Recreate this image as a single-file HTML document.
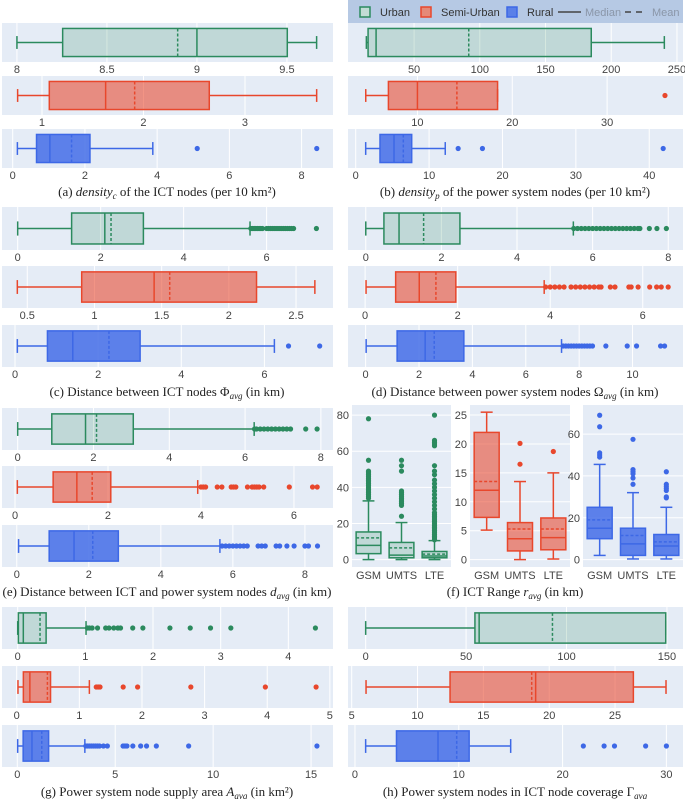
<!DOCTYPE html>
<html><head><meta charset="utf-8"><style>
html,body{margin:0;padding:0;background:#fff;}
svg{display:block;}
.tk{font-family:"Liberation Sans",sans-serif;font-size:11px;fill:#444;}
.cap{font-family:"Liberation Serif",serif;font-size:13px;fill:#222;}
.lg{font-family:"Liberation Sans",sans-serif;font-size:11px;}
</style></head><body>
<svg id="fig" width="685" height="799" viewBox="0 0 685 799" xmlns="http://www.w3.org/2000/svg">
<g>
<rect x="348" y="0" width="335" height="23" fill="#b6c9e4"/>
<rect x="360" y="7" width="10" height="10" fill="#c2dcd5" stroke="#2b8a5e" stroke-width="1.5"/>
<text x="380" y="16" class="lg" fill="#333">Urban</text>
<rect x="421" y="7" width="10" height="10" fill="#e58a78" stroke="#e8472c" stroke-width="1.5"/>
<text x="441" y="16" class="lg" fill="#333">Semi-Urban</text>
<rect x="507" y="7" width="10" height="10" fill="#5a80e8" stroke="#3d68e6" stroke-width="1.5"/>
<text x="527" y="16" class="lg" fill="#333">Rural</text>
<line x1="558" y1="12" x2="581" y2="12" stroke="#444" stroke-width="1.5"/>
<text x="585" y="16" class="lg" fill="#8a96a8">Median</text>
<line x1="625" y1="12" x2="646" y2="12" stroke="#444" stroke-width="1.5" stroke-dasharray="6,5"/>
<text x="652" y="16" class="lg" fill="#8a96a8">Mean</text>
</g>
<text class="cap" x="167" y="196" text-anchor="middle">(a) <tspan font-style="italic">density</tspan><tspan font-style="italic" font-size="9" dy="3">c</tspan><tspan dy="-3"> of the ICT nodes (per 10 km²)</tspan></text>
<text class="cap" x="515" y="196" text-anchor="middle">(b) <tspan font-style="italic">density</tspan><tspan font-style="italic" font-size="9" dy="3">p</tspan><tspan dy="-3"> of the power system nodes (per 10 km²)</tspan></text>
<text class="cap" x="167" y="396" text-anchor="middle">(c) Distance between ICT nodes Φ<tspan font-style="italic" font-size="9" dy="3">avg</tspan><tspan dy="-3"> (in km)</tspan></text>
<text class="cap" x="515" y="396" text-anchor="middle">(d) Distance between power system nodes Ω<tspan font-style="italic" font-size="9" dy="3">avg</tspan><tspan dy="-3"> (in km)</tspan></text>
<text class="cap" x="167" y="596" text-anchor="middle">(e) Distance between ICT and power system nodes <tspan font-style="italic">d</tspan><tspan font-style="italic" font-size="9" dy="3">avg</tspan><tspan dy="-3"> (in km)</tspan></text>
<text class="cap" x="515" y="596" text-anchor="middle">(f) ICT Range <tspan font-style="italic">r</tspan><tspan font-style="italic" font-size="9" dy="3">avg</tspan><tspan dy="-3"> (in km)</tspan></text>
<text class="cap" x="167" y="796" text-anchor="middle">(g) Power system node supply area <tspan font-style="italic">A</tspan><tspan font-style="italic" font-size="9" dy="3">avg</tspan><tspan dy="-3"> (in km²)</tspan></text>
<text class="cap" x="515" y="796" text-anchor="middle">(h) Power system nodes in ICT node coverage Γ<tspan font-style="italic" font-size="9" dy="3">avg</tspan></text>
</svg>
<script>
// stats arrays: [whiskerLow, q1, median, mean, q3, whiskerHigh]
const categories = ['Urban','Semi-Urban','Rural'];
const ictTechs = ['GSM','UMTS','LTE'];
// (a)
const aDomU=[7.917,9.756], aTickU=[8,8.5,9,9.5], aU=[8.0,8.254,9.0,8.893,9.502,9.665], aUOut=[];
const aDomS=[0.606,3.867], aTickS=[1,2,3], aS=[0.76,1.072,1.627,1.913,2.648,3.706], aSOut=[];
const aDomR=[-0.296,8.87], aTickR=[0,2,4,6,8], aR=[0.13,0.66,1.03,1.63,2.14,3.88], aROut=[5.11,8.42];
// (b)
const bDomU=[-0.27,254.6], bTickU=[50,100,150,200,250], bU=[13.7,15.0,21.1,91.6,184.8,240.4], bUOut=[];
const bDomS=[2.68,38.0], bTickS=[10,20,30], bS=[4.55,6.94,10.0,14.16,18.45,18.45], bSOut=[36.1];
const bDomR=[-1.05,44.6], bTickR=[0,10,20,30,40], bR=[1.36,3.31,5.22,6.49,7.63,12.2], bROut=[13.96,17.27,41.9];
// (c)
const cDomU=[-0.378,7.6], cTickU=[0,2,4,6], cU=[0,1.30,2.10,2.25,3.03,5.6], cUOut=[5.62,5.66,5.7,5.74,5.78,5.82,5.86,5.9,6.0,6.05,6.1,6.15,6.2,6.25,6.3,6.35,6.4,6.45,6.5,6.55,6.6,6.65,7.2];
const cDomS=[0.312,2.775], cTickS=[0.5,1,1.5,2,2.5], cS=[0.426,0.905,1.444,1.56,2.206,2.64], cSOut=[];
const cDomR=[-0.313,7.65], cTickR=[0,2,4,6], cR=[0.056,0.78,1.39,2.26,3.01,6.24], cROut=[6.58,7.33];
// (d)
const dDomU=[-0.47,8.39], dTickU=[0,2,4,6,8], dU=[0,0.48,0.88,1.53,2.49,5.49], dUOut=[5.5,5.6,5.7,5.8,5.9,6.0,6.1,6.2,6.3,6.4,6.5,6.6,6.7,6.8,6.9,7.0,7.1,7.2,7.25,7.5,7.7,7.95];
const dDomS=[-0.37,6.87], dTickS=[0,2,4,6], dS=[0.02,0.66,1.17,1.53,1.96,3.87], dSOut=[3.9,4.0,4.1,4.2,4.3,4.45,4.55,4.65,4.75,4.85,4.95,5.05,5.1,5.3,5.4,5.7,5.75,5.9,6.15,6.3,6.4,6.55];
const dDomR=[-0.66,11.89], dTickR=[0,2,4,6,8,10], dR=[0.02,1.18,2.23,2.57,3.68,7.34], dROut=[7.4,7.5,7.6,7.7,7.8,7.9,8.0,8.1,8.2,8.3,8.4,8.5,9.0,9.8,10.15,11.05,11.2];
// (e)
const eDomU=[-0.414,8.32], eTickU=[0,2,4,6,8], eU=[0,0.9,1.79,2.08,3.05,6.24], eUOut=[6.25,6.3,6.4,6.5,6.6,6.7,6.8,6.9,7.0,7.1,7.2,7.6,7.9];
const eDomS=[-0.28,6.84], eTickS=[0,2,4,6], eS=[0.05,0.82,1.33,1.66,2.06,3.93], eSOut=[4.0,4.05,4.1,4.35,4.45,4.65,4.7,4.75,5.0,5.1,5.15,5.2,5.25,5.35,5.9,6.4,6.5];
const eDomR=[-0.41,8.78], eTickR=[0,2,4,6,8], eR=[0.05,0.9,1.59,2.11,2.82,5.64], eROut=[5.7,5.8,5.9,6.0,6.1,6.2,6.3,6.4,6.7,6.8,6.9,7.2,7.3,7.5,7.7,8.0,8.1,8.35];
// (g)
const gDomU=[-0.232,4.66], gTickU=[0,1,2,3,4], gU=[0,0.01,0.083,0.33,0.42,1.01], gUOut=[1.03,1.06,1.1,1.18,1.3,1.35,1.42,1.48,1.52,1.7,1.85,2.25,2.55,2.85,3.15,4.4];
const gDomS=[-0.235,5.05], gTickS=[0,1,2,3,4,5], gS=[0.02,0.106,0.21,0.49,0.54,1.16], gSOut=[1.27,1.3,1.33,1.7,1.93,2.78,3.97,4.78];
const gDomR=[-0.78,16.12], gTickR=[0,5,10,15], gR=[0.02,0.3,0.75,1.25,1.6,3.45], gROut=[3.5,3.6,3.7,3.8,3.9,4.0,4.1,4.2,4.4,4.6,5.4,5.5,5.6,5.9,6.3,6.6,7.1,8.75,15.3];
// (h)
const hDomU=[-8.8,158], hTickU=[0,50,100,150], hU=[0,54.4,56.5,93,149.4,149.4], hUOut=[];
const hDomS=[4.72,30.16], hTickS=[5,10,15,20,25], hS=[6.09,12.47,18.97,18.67,26.39,28.87], hSOut=[];
const hDomR=[-0.67,31.6], hTickR=[0,10,20,30], hR=[1.03,4.0,8.0,9.8,11.0,15.0], hROut=[22,24,25,28,30];
// (f) vertical: per-tech stats
const fDomU=[-4.1,85.6], fTickU=[0,20,40,60,80];
const fUGSM=[0,3.3,7.9,12,15.3,32.5], fUGSMOut=[34,35,36,37,38,39,40,41,42,43,44,45,46,47,48,49,55,78];
const fUUMTS=[0,1,2.5,6.5,9.5,20.5], fUUMTSOut=[24,30,31,32,33,34,35,36,37,38,49,52,55];
const fULTE=[0,1,2,3,4.5,10.5], fULTEOut=[11,12,13,14,15,16,17,18,19,20,21,22,23,24,25,26,28,30,32,34,36,38,40,42,44,47,49,52,63,64,65,66,80];
const fDomS=[-1.28,26.74], fTickS=[0,5,10,15,20,25];
const fSGSM=[5.1,7.3,12,13.5,22,25.5], fSGSMOut=[];
const fSUMTS=[0,1.5,3.6,5.3,6.4,13.5], fSUMTSOut=[16.5,20.1];
const fSLTE=[0.1,1.7,3.8,5.3,7.2,15], fSLTEOut=[18.7];
const fDomR=[-3.54,73.9], fTickR=[0,20,40,60];
const fRGSM=[2,10,15,19,25,45.5], fRGSMOut=[49,50,51,63.5,69];
const fRUMTS=[0.3,2,7.5,11.5,15,32], fRUMTSOut=[36,39,41,42,43,57.5];
const fRLTE=[0.3,2,6.5,8.5,12,25], fRLTEOut=[29.5,30,33,34,35,36,42];

const NS='http://www.w3.org/2000/svg';
const svg=document.getElementById('fig');
const COL={Urban:['#2b8a5e','rgba(43,138,94,0.2)'],'Semi-Urban':['#e8472c','rgba(232,71,44,0.58)'],Rural:['#3d68e6','rgba(61,104,230,0.82)']};
function mk(tag,attrs,parent){const e=document.createElementNS(NS,tag);for(const k in attrs)e.setAttribute(k,attrs[k]);(parent||svg).appendChild(e);return e;}
function fmt(v){return String(v);}

function hPlot(id,cat,x0,x1,y0,y1,dom,ticks,st,outs){
  const g=mk('g',{});
  
  
  const sx=v=>x0+(v-dom[0])/(dom[1]-dom[0])*(x1-x0);
  mk('rect',{x:x0,y:y0,width:x1-x0,height:y1-y0,fill:'#e5ecf6'},g);
  ticks.forEach(t=>{
    const X=sx(t);
    mk('line',{x1:X,x2:X,y1:y0,y2:y1,stroke:'#fff','stroke-width':1},g);
    const tx=mk('text',{x:X,y:y1+11,'text-anchor':'middle',class:'tk'},g);
    tx.textContent=fmt(t);
    
    
  });
  const [c,f]=COL[cat];const cy=(y0+y1)/2,h=(y1-y0)*0.72,ch=(y1-y0)*0.33;
  const b=mk('g',{},g);
  
  
  mk('line',{x1:sx(st[0]),x2:sx(st[1]),y1:cy,y2:cy,stroke:c,'stroke-width':1.5},b);
  mk('line',{x1:sx(st[4]),x2:sx(st[5]),y1:cy,y2:cy,stroke:c,'stroke-width':1.5},b);
  mk('line',{x1:sx(st[0]),x2:sx(st[0]),y1:cy-ch/2,y2:cy+ch/2,stroke:c,'stroke-width':1.5},b);
  mk('line',{x1:sx(st[5]),x2:sx(st[5]),y1:cy-ch/2,y2:cy+ch/2,stroke:c,'stroke-width':1.5},b);
  mk('rect',{x:sx(st[1]),y:cy-h/2,width:Math.max(0.5,sx(st[4])-sx(st[1])),height:h,fill:f,stroke:c,'stroke-width':1.5},b);
  mk('line',{x1:sx(st[2]),x2:sx(st[2]),y1:cy-h/2,y2:cy+h/2,stroke:c,'stroke-width':1.5},b);
  mk('line',{x1:sx(st[3]),x2:sx(st[3]),y1:cy-h/2,y2:cy+h/2,stroke:c,'stroke-width':1.5,'stroke-dasharray':'3,2'},b);
  outs.forEach(o=>{const p=mk('circle',{cx:sx(o),cy:cy,r:2.6,fill:c},b);
    
    });
}
function panel(id,x0,x1,rows,U,S,R){
  hPlot(id,'Urban',x0,x1,rows[0][0],rows[0][1],U[0],U[1],U[2],U[3]);
  hPlot(id,'Semi-Urban',x0,x1,rows[1][0],rows[1][1],S[0],S[1],S[2],S[3]);
  hPlot(id,'Rural',x0,x1,rows[2][0],rows[2][1],R[0],R[1],R[2],R[3]);
}
const L=[2,333],Rt=[348,683];
const r1=[[23,62],[76,115],[129,168]],r2=[[207,250],[266,308],[325,367]],r3=[[408,450],[466,508],[525,567]],r4=[[607,649],[666,708],[725,767]];
panel('panel-a',L[0],L[1],r1,[aDomU,aTickU,aU,aUOut],[aDomS,aTickS,aS,aSOut],[aDomR,aTickR,aR,aROut]);
panel('panel-b',Rt[0],Rt[1],r1,[bDomU,bTickU,bU,bUOut],[bDomS,bTickS,bS,bSOut],[bDomR,bTickR,bR,bROut]);
panel('panel-c',L[0],L[1],r2,[cDomU,cTickU,cU,cUOut],[cDomS,cTickS,cS,cSOut],[cDomR,cTickR,cR,cROut]);
panel('panel-d',Rt[0],Rt[1],r2,[dDomU,dTickU,dU,dUOut],[dDomS,dTickS,dS,dSOut],[dDomR,dTickR,dR,dROut]);
panel('panel-e',L[0],L[1],r3,[eDomU,eTickU,eU,eUOut],[eDomS,eTickS,eS,eSOut],[eDomR,eTickR,eR,eROut]);
panel('panel-g',L[0],L[1],r4,[gDomU,gTickU,gU,gUOut],[gDomS,gTickS,gS,gSOut],[gDomR,gTickR,gR,gROut]);
panel('panel-h',Rt[0],Rt[1],r4,[hDomU,hTickU,hU,hUOut],[hDomS,hTickS,hS,hSOut],[hDomR,hTickR,hR,hROut]);

function vPlot(cat,x0,x1,y0,y1,dom,ticks,stats,outs){
  const g=mk('g',{});
  
  
  const sy=v=>y1-(v-dom[0])/(dom[1]-dom[0])*(y1-y0);
  mk('rect',{x:x0,y:y0,width:x1-x0,height:y1-y0,fill:'#e5ecf6'},g);
  ticks.forEach(t=>{const Y=sy(t);
    mk('line',{x1:x0,x2:x1,y1:Y,y2:Y,stroke:'#fff','stroke-width':1},g);
    const tx=mk('text',{x:x0-3,y:Y+4,'text-anchor':'end',class:'tk'},g);
    tx.textContent=fmt(t);
    
    });
  const [c,f]=COL[cat];const slot=(x1-x0)/ictTechs.length,bw=slot*0.75,cw=slot*0.36;
  ictTechs.forEach((tech,i)=>{
    const cx=x0+slot*(i+0.5),st=stats[i];
    const lb=mk('text',{x:cx,y:y1+12,'text-anchor':'middle',class:'tk'},g);
    lb.textContent=tech;
    
    
    const b=mk('g',{},g);
    
    
    mk('line',{x1:cx,x2:cx,y1:sy(st[0]),y2:sy(st[1]),stroke:c,'stroke-width':1.5},b);
    mk('line',{x1:cx,x2:cx,y1:sy(st[4]),y2:sy(st[5]),stroke:c,'stroke-width':1.5},b);
    mk('line',{x1:cx-cw/2,x2:cx+cw/2,y1:sy(st[0]),y2:sy(st[0]),stroke:c,'stroke-width':1.5},b);
    mk('line',{x1:cx-cw/2,x2:cx+cw/2,y1:sy(st[5]),y2:sy(st[5]),stroke:c,'stroke-width':1.5},b);
    mk('rect',{x:cx-bw/2,y:sy(st[4]),width:bw,height:Math.max(0.5,sy(st[1])-sy(st[4])),fill:f,stroke:c,'stroke-width':1.5},b);
    mk('line',{x1:cx-bw/2,x2:cx+bw/2,y1:sy(st[2]),y2:sy(st[2]),stroke:c,'stroke-width':1.5},b);
    mk('line',{x1:cx-bw/2,x2:cx+bw/2,y1:sy(st[3]),y2:sy(st[3]),stroke:c,'stroke-width':1.5,'stroke-dasharray':'3,2'},b);
    outs[i].forEach(o=>{const p=mk('circle',{cx:cx,cy:sy(o),r:2.6,fill:c},b);
      
      });
  });
}
vPlot('Urban',352,451,405,567,fDomU,fTickU,[fUGSM,fUUMTS,fULTE],[fUGSMOut,fUUMTSOut,fULTEOut]);
vPlot('Semi-Urban',470,570,405,567,fDomS,fTickS,[fSGSM,fSUMTS,fSLTE],[fSGSMOut,fSUMTSOut,fSLTEOut]);
vPlot('Rural',583,683,405,567,fDomR,fTickR,[fRGSM,fRUMTS,fRLTE],[fRGSMOut,fRUMTSOut,fRLTEOut]);
</script>
</body></html>
